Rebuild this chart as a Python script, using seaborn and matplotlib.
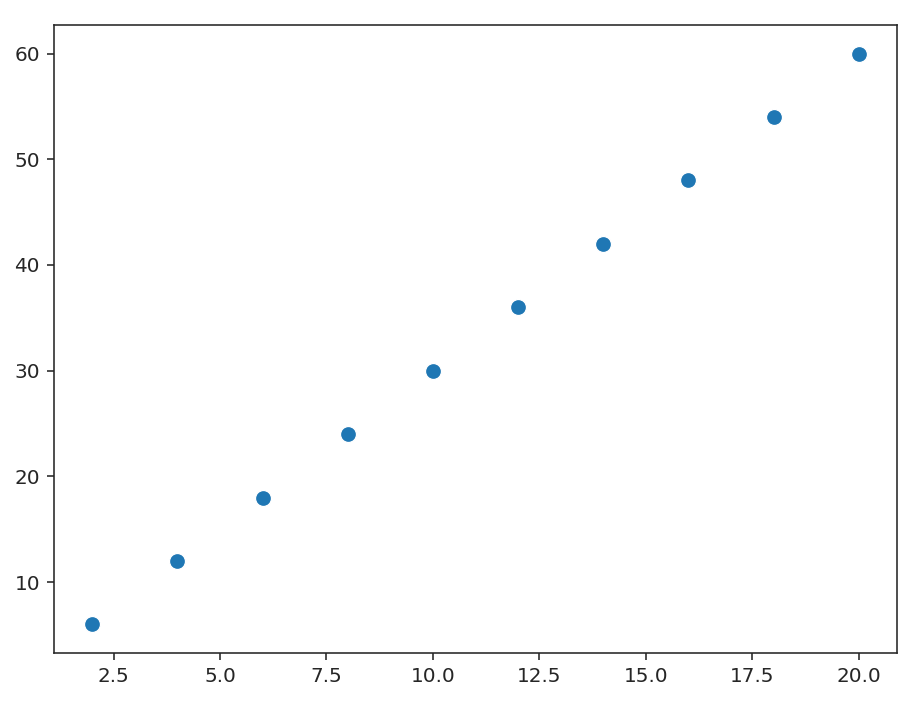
import matplotlib
matplotlib.use("Agg")
import matplotlib.pyplot as plt
import seaborn as sns

# data
x_vals = [2, 4, 6, 8, 10, 12, 14, 16, 18, 20]
y_vals = [6, 12, 18, 24, 30, 36, 42, 48, 54, 60]

plt.rcParams.update({
    "axes.edgecolor": ".15",
    "xtick.color": ".15",
    "ytick.color": ".15",
    "text.color": ".15",
})

fig = plt.figure(figsize=(920 / 144, 716 / 144), dpi=144)
ax = fig.add_axes([54 / 920, 1 - 653 / 716, (897 - 54) / 920, (653 - 25) / 716])

sns.scatterplot(x=x_vals, y=y_vals, ax=ax, s=64)

fig.savefig("out.png", dpi=144)
